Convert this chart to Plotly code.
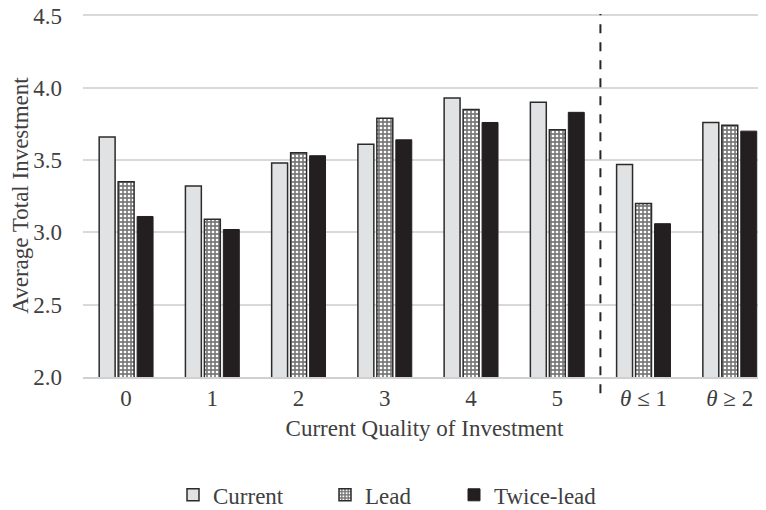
import plotly.graph_objects as go

categories = ["0", "1", "2", "3", "4", "5", "<i>θ</i> ≤ 1", "<i>θ</i> ≥ 2"]
current = [3.66, 3.32, 3.48, 3.61, 3.93, 3.90, 3.47, 3.76]
lead = [3.35, 3.09, 3.55, 3.79, 3.85, 3.71, 3.20, 3.74]
twice_lead = [3.11, 3.02, 3.53, 3.64, 3.76, 3.83, 3.06, 3.70]
y_ticks = [2.0, 2.5, 3.0, 3.5, 4.0, 4.5]

xpos = list(range(len(categories)))
FONT = "Liberation Serif"
TXT = "#404040"
FS = 23

# page body has an 8px margin, so the figure is laid out in shifted pixels
OFF = 8
W, H = 766 - OFF, 510 - OFF
Y_TOP = 4.51               # a little headroom so the 4.5 gridline is drawn
PX_PER_UNIT = (377 - 15) / 2.5
L, R_EDGE = 83 - OFF, 766 - OFF
B_EDGE = 377 - OFF
T = B_EDGE - (Y_TOP - 2.0) * PX_PER_UNIT

fig = go.Figure()
fig.add_trace(go.Bar(
    x=xpos, y=current, name="Current", legend="legend",
    marker=dict(color="#e1e2e4", line=dict(color="#2b2b2b", width=1.5)),
))
fig.add_trace(go.Bar(
    x=xpos, y=lead, name="Lead", legend="legend2",
    marker=dict(color="#808080", line=dict(color="#2b2b2b", width=1.5),
                pattern=dict(shape=".", bgcolor="#7a7a7a", fgcolor="#ffffff",
                             size=4, solidity=0.35, fillmode="replace")),
))
fig.add_trace(go.Bar(
    x=xpos, y=twice_lead, name="Twice-lead", legend="legend3",
    marker=dict(color="#231f20", line=dict(color="#231f20", width=1)),
))

fig.add_shape(type="line", xref="x", yref="paper", x0=5.5, x1=5.5, y0=-0.045, y1=1.0,
              line=dict(color="#262626", width=2, dash="dash"))

def px_x(p):
    return (p - OFF - L) / (R_EDGE - L)

def px_y(p):
    return (B_EDGE - (p - OFF)) / (B_EDGE - T)

legend_common = dict(orientation="h", yanchor="middle", xanchor="left", y=px_y(495),
                     font=dict(family=FONT, size=FS, color=TXT),
                     bgcolor="rgba(0,0,0,0)", itemwidth=30)

fig.update_layout(
    width=W, height=H,
    margin=dict(l=L, r=W - R_EDGE, t=T, b=H - B_EDGE, autoexpand=False),
    paper_bgcolor="white", plot_bgcolor="white",
    showlegend=True,
    barmode="group", bargap=0.34, bargroupgap=0.16,
    font=dict(family=FONT, size=FS, color=TXT),
    legend=dict(x=px_x(173), **legend_common),
    legend2=dict(x=px_x(325), **legend_common),
    legend3=dict(x=px_x(454), **legend_common),
    xaxis=dict(
        tickmode="array", tickvals=xpos, ticktext=categories,
        range=[-0.5, 7.42], showgrid=False, zeroline=False,
        showline=True, linecolor="#d0d0d0", linewidth=1.5,
        ticks="", tickfont=dict(family=FONT, size=FS, color=TXT),
        title=dict(text="Current Quality of Investment", standoff=10,
                   font=dict(family=FONT, size=FS, color=TXT)),
    ),
    yaxis=dict(
        range=[2.0, Y_TOP], tickmode="array", tickvals=y_ticks,
        ticktext=[f"{v:.1f}" for v in y_ticks],
        showgrid=True, gridcolor="#d9d9d9", gridwidth=1.5,
        zeroline=False, ticks="", ticklabelstandoff=20,
        ticklabeloverflow="allow",
        tickfont=dict(family=FONT, size=FS, color=TXT),
        title=dict(text="Average Total Investment", standoff=2,
                   font=dict(family=FONT, size=FS, color=TXT)),
    ),
)

fig.write_html("out.html")
